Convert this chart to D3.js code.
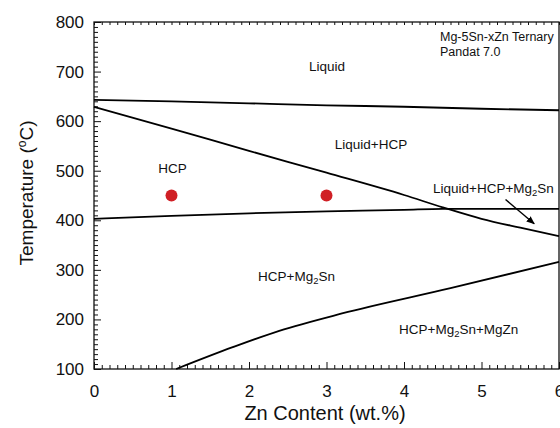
<!DOCTYPE html>
<html>
<head>
<meta charset="utf-8">
<script src="https://cdn.jsdelivr.net/npm/d3@7"></script>
<style>
  body { margin: 0; background: #fff; }
  text { font-family: "Liberation Sans", Arial, sans-serif; fill: #111; }
</style>
</head>
<body>
<script>
// phase boundaries (Zn wt.%, temperature C)
const liquidus = [[0, 643], [1, 640], [2, 636], [3, 632], [4, 629], [5, 625], [6, 622]];
const hcpLiquidus = [[0, 629], [1, 585], [2, 540], [3, 496], [4, 451], [4.5, 426], [5, 403], [5.5, 385], [6, 368]];
const mg2snLine = [[0, 403], [1, 409], [2, 414], [3, 418], [4, 421], [4.5, 423], [5, 423], [6, 423]];
const mgznLine = [[1.06, 100], [1.79, 144], [2.39, 177], [3.2, 212], [4.6, 263], [6, 316]];
const expPoints = [[1, 450], [3, 450]];
const arrowPts = [[5.31, 442], [5.68, 393]];

const xTicks = [0, 1, 2, 3, 4, 5, 6];
const yTicks = [100, 200, 300, 400, 500, 600, 700, 800];

const W = 560, H = 428;
const mLeft = 94, mRight = 559, mTop = 22, mBottom = 369;

const svg = d3.select("body").append("svg")
    .attr("width", W)
    .attr("height", H);

const x = d3.scaleLinear().domain([0, 6]).range([mLeft, mRight]);
const y = d3.scaleLinear().domain([100, 800]).range([mBottom, mTop]);

// inward ticks, major + minor
const minorX = d3.range(0, 6.001, 0.1).filter(v => Math.abs(v - Math.round(v)) > 1e-6);
const minorY = d3.range(100, 800, 10).filter(v => v % 100 !== 0);

svg.append("g")
    .attr("transform", `translate(0,${mBottom})`)
    .call(d3.axisBottom(x).tickValues(xTicks).tickSize(-7).tickPadding(16).tickFormat(d3.format("d")))
    .call(g => g.select(".domain").remove())
    .call(g => g.selectAll("text").style("font-size", "17px").attr("dy", "0.71em"));

svg.append("g")
    .attr("transform", `translate(0,${mBottom})`)
    .call(d3.axisBottom(x).tickValues(minorX).tickSize(-4).tickFormat(""))
    .call(g => g.select(".domain").remove());

svg.append("g")
    .attr("transform", `translate(0,${mTop})`)
    .call(d3.axisTop(x).tickValues(minorX.concat(xTicks)).tickSize(-3).tickFormat(""))
    .call(g => g.select(".domain").remove());

svg.append("g")
    .attr("transform", `translate(${mLeft},0)`)
    .call(d3.axisLeft(y).tickValues(yTicks).tickSize(-7).tickPadding(10))
    .call(g => g.select(".domain").remove())
    .call(g => g.selectAll("text").style("font-size", "17px"));

svg.append("g")
    .attr("transform", `translate(${mLeft},0)`)
    .call(d3.axisLeft(y).tickValues(minorY).tickSize(-4).tickFormat(""))
    .call(g => g.select(".domain").remove());

svg.selectAll(".tick line").attr("stroke", "#111").attr("stroke-width", 1);

// frame
svg.append("rect")
    .attr("x", mLeft).attr("y", mTop)
    .attr("width", mRight - mLeft).attr("height", mBottom - mTop)
    .attr("fill", "none")
    .attr("stroke", "#111")
    .attr("stroke-width", 1.3);

const line = d3.line()
    .x(d => x(d[0]))
    .y(d => y(d[1]))
    .curve(d3.curveMonotoneX);

[liquidus, hcpLiquidus, mg2snLine, mgznLine].forEach(pts => {
    svg.append("path")
        .datum(pts)
        .attr("fill", "none")
        .attr("stroke", "#000")
        .attr("stroke-width", 1.8)
        .attr("d", line);
});

// arrow
svg.append("defs").append("marker")
    .attr("id", "head")
    .attr("viewBox", "0 0 10 10")
    .attr("refX", 9).attr("refY", 5)
    .attr("markerWidth", 6).attr("markerHeight", 6)
    .attr("orient", "auto")
    .append("path")
    .attr("d", "M0,1L10,5L0,9Z")
    .attr("fill", "#000");

svg.append("line")
    .attr("x1", x(arrowPts[0][0])).attr("y1", y(arrowPts[0][1]))
    .attr("x2", x(arrowPts[1][0])).attr("y2", y(arrowPts[1][1]))
    .attr("stroke", "#000")
    .attr("stroke-width", 1.4)
    .attr("marker-end", "url(#head)");

// experimental points
svg.selectAll("circle.pt")
    .data(expPoints)
    .join("circle")
    .attr("class", "pt")
    .attr("cx", d => x(d[0]))
    .attr("cy", d => y(d[1]))
    .attr("r", 6)
    .attr("fill", "#d01f25");

// region labels
function label(px, py, anchor, parts, size) {
    const t = svg.append("text")
        .attr("x", px).attr("y", py)
        .attr("text-anchor", anchor)
        .style("font-size", size + "px");
    parts.forEach(p => {
        if (typeof p === "string") t.append("tspan").text(p);
        else t.append("tspan").attr("dy", p.dy).style("font-size", p.size + "px").text(p.t);
    });
    return t;
}

const sub = (s, fs) => [{ t: s, dy: 3, size: fs * 0.7 }];
const back = (s, fs) => ({ t: s, dy: -3, size: fs });

const fs = 13.5;
label(327, 71, "middle", ["Liquid"], fs);
label(440, 41, "start", ["Mg-5Sn-xZn Ternary"], 12.5);
label(440, 56, "start", ["Pandat 7.0"], 12.5);
label(371, 149, "middle", ["Liquid+HCP"], fs);
label(172.5, 173, "middle", ["HCP"], fs);
label(433, 193, "start", ["Liquid+HCP+Mg", ...sub("2", fs), back("Sn", fs)], fs);
label(258, 281, "start", ["HCP+Mg", ...sub("2", fs), back("Sn", fs)], fs);
label(399, 334, "start", ["HCP+Mg", ...sub("2", fs), back("Sn+MgZn", fs)], fs);

// axis titles
svg.append("text")
    .attr("x", 325).attr("y", 420)
    .attr("text-anchor", "middle")
    .style("font-size", "20px")
    .text("Zn Content (wt.%)");

const yt = svg.append("text")
    .attr("transform", "translate(33,193) rotate(-90)")
    .attr("text-anchor", "middle")
    .style("font-size", "19px");
yt.append("tspan").text("Temperature (");
yt.append("tspan").attr("dy", -7).style("font-size", "12px").text("o");
yt.append("tspan").attr("dy", 7).text("C)");
</script>
</body>
</html>
